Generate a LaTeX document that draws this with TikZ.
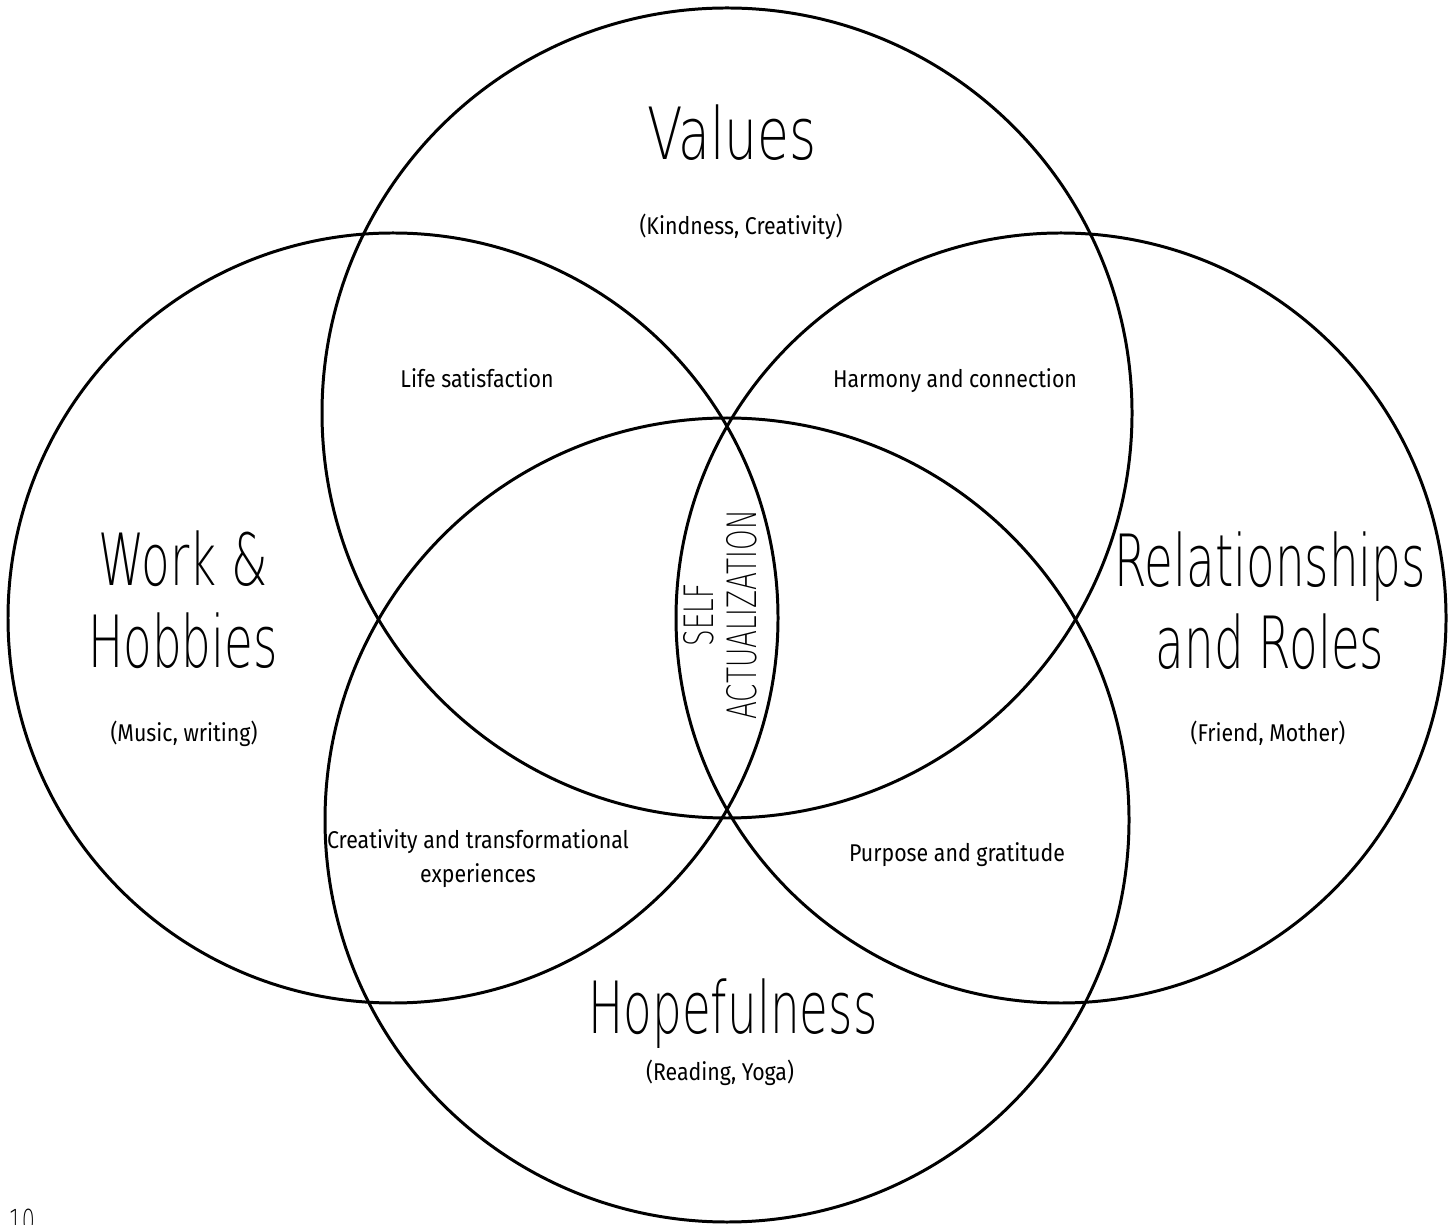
\documentclass[tikz,border=0pt]{standalone}
\usepackage{fontspec}
\setmainfont{Fira Sans}[FakeStretch=0.88]
\newfontfamily\thinfont{DejaVu Sans}[UprightFont=* ExtraLight, FakeStretch=0.65]
\begin{document}
\begin{tikzpicture}[
		ring/.style={draw=black, line width=0.85pt, circle, inner sep=0pt},
		title/.style={font=\thinfont\fontsize{20.5}{23.3}\selectfont, align=center, inner sep=0pt},
		note/.style={font=\fontsize{6.9}{9.4}\selectfont, align=center, inner sep=0pt}
	]
		\useasboundingbox (0.00,0.00) rectangle (14.53,12.24);
		% the four circles
		\node[ring, minimum size=8.10cm] (values) at (7.27,8.11) {};
		\node[ring, minimum size=8.04cm] (hope) at (7.27,4.04) {};
		\node[ring, minimum size=7.70cm] (work) at (3.93,6.06) {};
		\node[ring, minimum size=7.70cm] (roles) at (10.61,6.06) {};
		% titles
		\node[title, anchor=base] (valuestitle) at (7.32,10.64) {\addfontfeature{FakeStretch=0.72}Values};
		\node[note, anchor=base] (valuesnote) at (7.41,9.89) {(Kindness, Creativity)};
		\node[title] (worktitle) at (1.83,6.24) {Work \&\\Hobbies};
		\node[note, anchor=base] (worknote) at (1.84,4.82) {(Music, writing)};
		\node[title] (rolestitle) at (12.70,6.23) {Relationships\\and Roles};
		\node[note, anchor=base] (rolesnote) at (12.68,4.82) {(Friend, Mother)};
		\node[title, anchor=base] (hopetitle) at (7.33,1.91) {Hopefulness};
		\node[note, anchor=base] (hopenote) at (7.20,1.44) {(Reading, Yoga)};
		% overlaps
		\node[note, anchor=base] (life) at (4.77,8.36) {Life satisfaction};
		\node[note, anchor=base] (harmony) at (9.55,8.36) {Harmony and connection};
		\node[note, anchor=base] (creativity) at (4.78,3.42) {Creativity and transformational\\experiences};
		\node[note, anchor=base] (purpose) at (9.57,3.63) {Purpose and gratitude};
		\node[font=\thinfont\fontsize{11.5}{12.2}\selectfont, align=center, inner sep=0pt, rotate=90] (self) at (7.20,6.09) {SELF\\ACTUALIZATION};
		% page number
		\node[font=\thinfont\fontsize{9}{9}\selectfont, anchor=north west, inner sep=0pt] (page) at (0.08,0.16) {10};
	\end{tikzpicture}
\end{document}
